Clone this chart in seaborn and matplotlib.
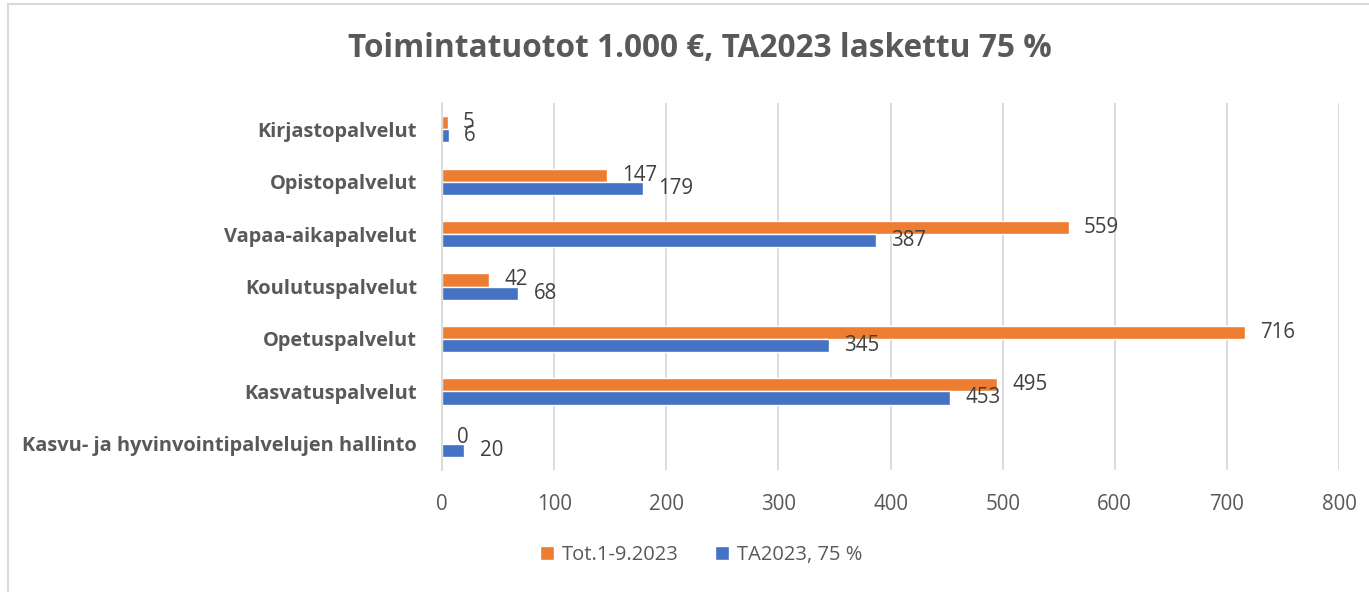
import matplotlib
matplotlib.use("Agg")
import matplotlib.pyplot as plt
from matplotlib.lines import Line2D
from matplotlib.patches import Patch
import seaborn as sns
import pandas as pd
import numpy as np

categories = ["Kirjastopalvelut", "Opistopalvelut", "Vapaa-aikapalvelut",
              "Koulutuspalvelut", "Opetuspalvelut", "Kasvatuspalvelut",
              "Kasvu- ja hyvinvointipalvelujen hallinto"]
series_names = ["Tot.1-9.2023", "TA2023, 75 %"]
tot_values = [5, 147, 559, 42, 716, 495, 0]
ta_values = [6, 179, 387, 68, 345, 453, 20]
x_ticks = [0, 100, 200, 300, 400, 500, 600, 700, 800]
title = "Toimintatuotot 1.000 €, TA2023 laskettu 75 %"

df = pd.DataFrame({
    "category": categories * 2,
    "series": [series_names[0]] * len(categories) + [series_names[1]] * len(categories),
    "value": tot_values + ta_values,
})

sns.set_theme(style="white")
plt.rcParams["font.family"] = ["Open Sans", "DejaVu Sans"]

colors = {series_names[0]: "#ED7D31", series_names[1]: "#4472C4"}

fig = plt.figure(figsize=(13.69, 5.92), dpi=100)
ax = fig.add_axes([0.3229, 0.206, 0.6552, 0.62])

sns.barplot(data=df, y="category", x="value", hue="series", order=categories,
            hue_order=series_names, palette=colors, orient="h", width=0.5,
            ax=ax, legend=False, saturation=1)

for cont in ax.containers:
    labels = ax.bar_label(cont, padding=11, fontsize=14.8, color="#404040")
    for t in labels:
        t.set_va("center")

ax.set_xlim(0, 800)
ax.set_xticks(x_ticks)
ax.set_ylim(len(categories) - 0.5, -0.5)
ax.xaxis.grid(True, color="#D9D9D9", linewidth=1.3)
ax.set_axisbelow(True)
for s in ax.spines.values():
    s.set_visible(False)
ax.spines["left"].set_visible(True)
ax.spines["left"].set_color("#D9D9D9")
ax.spines["left"].set_linewidth(1.3)
ax.set_xlabel("")
ax.set_ylabel("")
ax.tick_params(axis="x", labelsize=14.8, labelcolor="#595959", length=0, pad=17)
ax.tick_params(axis="y", labelsize=14.4, labelcolor="#595959", length=0, pad=18)
for lab in ax.get_yticklabels():
    lab.set_fontweight("bold")

fig.text(0.511, 0.918, title, ha="center", va="center", fontsize=22.8,
         fontweight="bold", color="#595959")

handles = [Patch(facecolor=colors[s], label=s) for s in series_names]
fig.legend(handles=handles, loc="center", bbox_to_anchor=(0.512, 0.062), ncol=2,
           frameon=False, fontsize=14.5, labelcolor="#595959", handlelength=0.7,
           handleheight=0.7, columnspacing=1.8, handletextpad=0.4)

fig.add_artist(Line2D([0.006, 0.006], [0.0, 0.993], transform=fig.transFigure,
                      color="#D9D9D9", linewidth=1.5))
fig.add_artist(Line2D([0.006, 1.0], [0.993, 0.993], transform=fig.transFigure,
                      color="#D9D9D9", linewidth=1.5))

fig.savefig("out.png", dpi=100, facecolor="white")
